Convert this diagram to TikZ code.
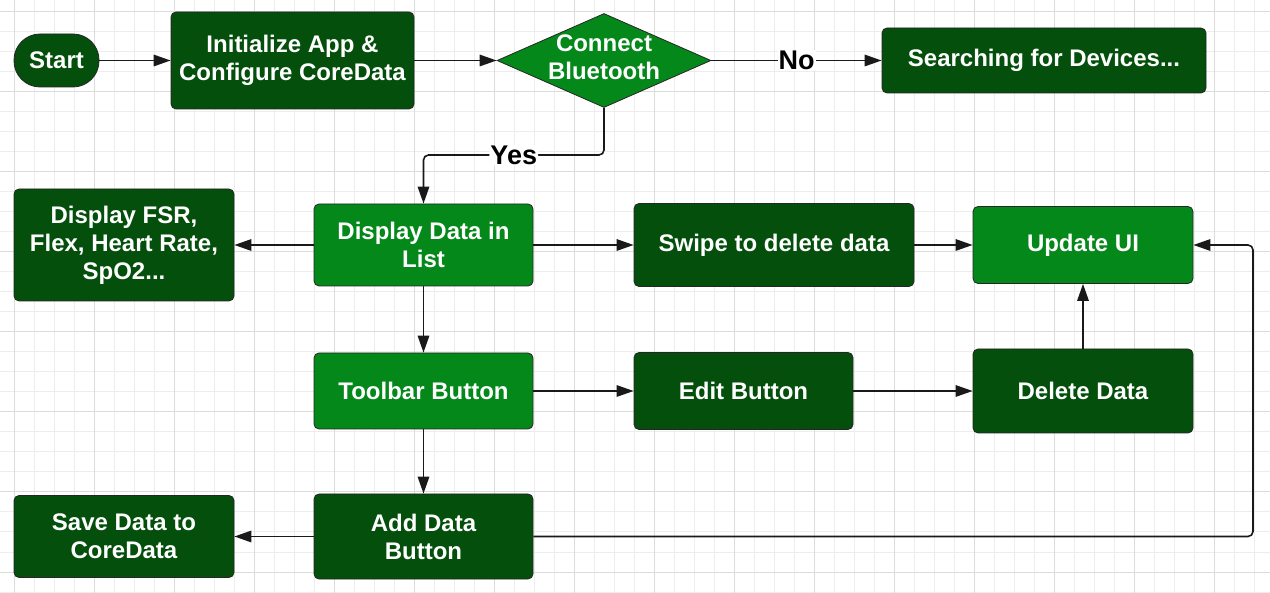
\documentclass[tikz,border=0pt]{standalone}
\usepackage{fontspec}
\setmainfont{Liberation Sans}
\usetikzlibrary{arrows.meta,shapes.geometric}
\definecolor{dkgreen}{HTML}{034F0B}
\definecolor{ltgreen}{HTML}{05881A}
\definecolor{gmincol}{HTML}{EDEDED}
\definecolor{gmajcol}{HTML}{DCDCDC}
\begin{document}
\begin{tikzpicture}[x=1pt,y=-1pt,
  basebox/.style={draw=black!85, line width=0.8pt, rounded corners=5pt, text=white,
    font=\fontsize{24}{28}\selectfont\bfseries, align=center, inner sep=0pt},
  darkbox/.style={basebox, fill=dkgreen},
  lightbox/.style={basebox, fill=ltgreen},
  boxtext/.style={text=white, font=\fontsize{24}{28}\selectfont\bfseries, align=center, inner sep=0pt},
  arr/.style={draw=black!90, line width=1.6pt, -{Triangle[length=17pt,width=11.5pt]}},
  lab/.style={fill=white, text=black, font=\fontsize{27}{30}\selectfont\bfseries, inner sep=1pt},
  gmin/.style={draw=gmincol, line width=1pt},
  gmaj/.style={draw=gmajcol, line width=1pt}]
\useasboundingbox (0,0) rectangle (1270,593);
\fill[white] (0,0) rectangle (1270,593);
% grid
\foreach \x in {14,34,...,1270} \draw[gmin] (\x,0) -- (\x,593);
\foreach \y in {12,32,...,593} \draw[gmin] (0,\y) -- (1270,\y);
\foreach \x in {14,94,...,1270} \draw[gmaj] (\x,0) -- (\x,593);
\foreach \y in {12,92,...,593} \draw[gmaj] (0,\y) -- (1270,\y);

% nodes
\node[darkbox, rounded corners=26pt, minimum width=85, minimum height=53] (start) at (56.5,60.5) {Start};
\node[darkbox, minimum width=243, minimum height=97] (init) at (292.5,60.5) {Initialize App \&\\Configure CoreData};
\node[diamond, draw=black!85, line width=0.8pt, fill=ltgreen, minimum width=214, minimum height=94, inner sep=0pt] (dia) at (604,60.5) {};
\node[boxtext] (diatext) at (604,57) {Connect\\Bluetooth};
\node[darkbox, minimum width=324, minimum height=65] (search) at (1044,60.5) {Searching for Devices...};

\node[darkbox, minimum width=220, minimum height=112] (fsr) at (124,245) {Display FSR,\\Flex, Heart Rate,\\SpO2...};
\node[lightbox, minimum width=219, minimum height=82] (ddl) at (423.5,245) {Display Data in\\List};
\node[darkbox, minimum width=280, minimum height=83] (swipe) at (774,245) {Swipe to delete data};
\node[lightbox, minimum width=220, minimum height=77] (upd) at (1083,245) {Update UI};

\node[lightbox, minimum width=219, minimum height=76] (tool) at (423.5,391) {Toolbar Button};
\node[darkbox, minimum width=219, minimum height=77] (edit) at (743.5,391) {Edit Button};
\node[darkbox, minimum width=220, minimum height=84] (del) at (1083,391) {Delete Data};

\node[darkbox, minimum width=220, minimum height=82] (save) at (124,536.5) {Save Data to\\CoreData};
\node[darkbox, minimum width=219, minimum height=85] (add) at (423.5,536.5) {Add Data\\Button};

\coordinate (yesy) at (0,155);
\coordinate (loopx) at (1253,0);

% connectors
\draw[arr] (start) -- (init);
\draw[arr] (init) -- (dia);
\draw[arr] (dia) -- node[lab]{No} (search);
\draw[arr, rounded corners=5pt] (dia.south) -- (dia.south |- yesy) -- node[lab]{Yes} (ddl.north |- yesy) -- (ddl.north);
\draw[arr] (ddl) -- (fsr);
\draw[arr] (ddl) -- (swipe);
\draw[arr] (swipe) -- (upd);
\draw[arr] (ddl) -- (tool);
\draw[arr] (tool) -- (edit);
\draw[arr] (edit) -- (del);
\draw[arr] (del) -- (upd);
\draw[arr] (tool) -- (add);
\draw[arr] (add) -- (save);
\draw[arr, rounded corners=5pt] (add.east) -- (add.east -| loopx) -- (upd.east -| loopx) -- (upd.east);
\end{tikzpicture}
\end{document}
